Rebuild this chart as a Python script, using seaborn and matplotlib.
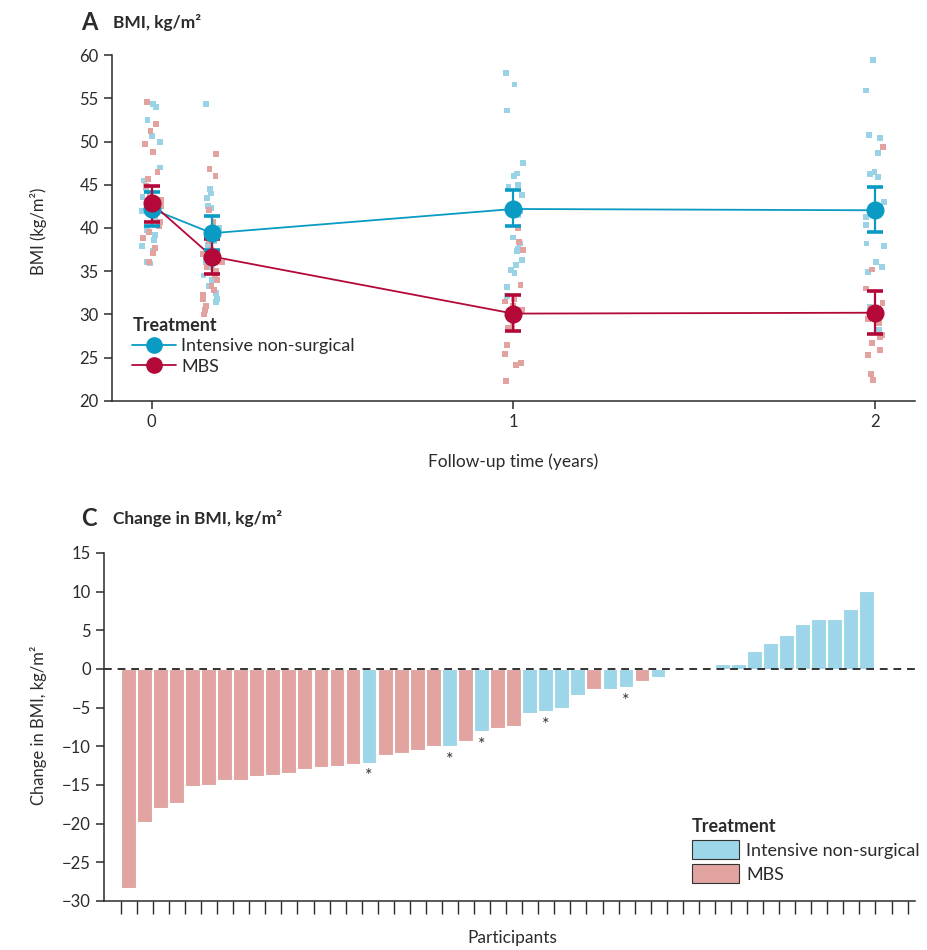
import numpy as np
import pandas as pd
import matplotlib
matplotlib.use("Agg")
import matplotlib.pyplot as plt
from matplotlib.lines import Line2D
from matplotlib.patches import Patch
import seaborn as sns

# ---------------- data: panel A ----------------
groups = ["Intensive non-surgical", "MBS"]
times = [0.0, 0.1667, 1.0, 2.0]

mean_ins = [42.2, 39.4, 42.2, 42.05]
lo_ins = [40.2, 37.4, 40.2, 39.5]
hi_ins = [44.2, 41.4, 44.4, 44.7]

mean_mbs = [42.85, 36.7, 30.1, 30.2]
lo_mbs = [40.7, 34.65, 28.1, 27.75]
hi_mbs = [44.85, 38.7, 32.2, 32.75]

ins_t0 = [54.3, 54.0, 52.5, 50.6, 49.9, 47.0, 45.5, 44.6, 43.6, 42.7, 42.0, 41.5,
          40.9, 39.8, 39.2, 38.6, 37.9, 37.3, 36.1, 35.9]
mbs_t0 = [54.6, 52.0, 51.2, 49.7, 48.8, 46.5, 45.7, 44.9, 44.0, 43.2, 42.5, 41.5,
          40.7, 40.2, 39.5, 38.8, 37.7, 37.1, 36.1]
ins_t1 = [54.3, 44.5, 44.0, 43.5, 42.5, 42.3, 40.0, 38.5, 38.0, 37.5, 37.0, 36.5,
          36.0, 35.5, 34.5, 34.0, 33.3, 32.5, 31.8, 31.4]
mbs_t1 = [48.6, 46.8, 46.0, 42.1, 40.7, 38.5, 37.5, 37.0, 36.5, 36.0, 35.5, 35.0,
          34.5, 34.0, 33.3, 32.8, 32.3, 31.8, 31.0, 30.5, 30.0]
ins_t2 = [57.9, 56.6, 53.6, 47.5, 46.3, 46.0, 45.0, 44.7, 43.8, 42.0, 41.5, 38.9,
          38.2, 37.6, 37.3, 36.3, 35.7, 35.1, 34.8, 33.2, 32.1]
mbs_t2 = [40.0, 38.4, 37.5, 33.4, 31.8, 31.5, 31.0, 30.5, 30.0, 29.4, 28.7, 28.4,
          26.5, 25.4, 24.4, 24.2, 22.3]
ins_t3 = [59.4, 55.9, 50.8, 50.4, 48.7, 46.5, 46.2, 45.9, 43.0, 42.5, 41.3, 40.3,
          38.2, 37.9, 36.1, 35.5, 34.9, 30.9, 28.2]
mbs_t3 = [49.4, 35.2, 33.0, 31.3, 30.8, 30.3, 29.5, 29.0, 27.6, 27.4, 26.7, 25.9,
          25.3, 23.1, 22.4]

# ---------------- data: panel C ----------------
change = [-28.3, -19.8, -18.0, -17.3, -15.1, -15.0, -14.4, -14.3, -13.9, -13.7,
          -13.4, -12.9, -12.65, -12.5, -12.3, -12.1, -11.1, -10.9, -10.5, -10.0,
          -10.0, -9.3, -8.0, -7.7, -7.4, -5.7, -5.4, -5.1, -3.4, -2.6,
          -2.6, -2.4, -1.5, -1.1, 0.7, 0.7, 2.3, 3.4, 4.4, 5.8,
          6.4, 6.5, 7.7, 10.1]
arm = ["M"] * 15 + ["I", "M", "M", "M", "M", "I", "M", "I", "M", "M", "I",
                    "I", "I", "I", "M", "I", "I", "M", "I"] + ["I"] * 10
slot = list(range(34)) + list(range(37, 47))
starred = [15, 20, 22, 26, 31]
n_slots = 50

# ---------------- style ----------------
sns.set_style("ticks")
plt.rcParams["font.family"] = ["Lato", "DejaVu Sans"]
dark = "#2b2b2b"
plt.rcParams.update({
    "axes.edgecolor": dark, "axes.linewidth": 1.1, "xtick.color": dark,
    "ytick.color": dark, "text.color": dark, "axes.labelcolor": dark,
})

c_ins, c_mbs = "#0a9bc4", "#b30838"
c_ins_l, c_mbs_l = "#9ad3e6", "#e2a29f"
bar_ins, bar_mbs = "#9dd6e8", "#e1a4a0"

fig = plt.figure(figsize=(9.27, 9.5), dpi=100)

# ---------------- panel A ----------------
axA = fig.add_axes([0.1208, 0.578, 0.866, 0.364])
pts = []
for t, a, b in [(times[0], ins_t0, mbs_t0), (times[1], ins_t1, mbs_t1),
                (times[2], ins_t2, mbs_t2), (times[3], ins_t3, mbs_t3)]:
    pts += [(t, v, groups[0]) for v in a]
    pts += [(t, v, groups[1]) for v in b]
dfp = pd.DataFrame(pts, columns=["time", "bmi", "grp"])
np.random.seed(3)
sns.stripplot(data=dfp, x="time", y="bmi", hue="grp", native_scale=True,
              jitter=0.17, dodge=False, marker="s", size=4.2, linewidth=0,
              palette={groups[0]: c_ins_l, groups[1]: c_mbs_l},
              legend=False, ax=axA, zorder=1)

dfm = pd.DataFrame({"time": times * 2, "bmi": mean_ins + mean_mbs,
                    "grp": [groups[0]] * 4 + [groups[1]] * 4})
sns.lineplot(data=dfm, x="time", y="bmi", hue="grp",
             palette={groups[0]: c_ins, groups[1]: c_mbs}, lw=1.3,
             legend=False, ax=axA, zorder=3)
for m, lo, hi, c in [(mean_ins, lo_ins, hi_ins, c_ins), (mean_mbs, lo_mbs, hi_mbs, c_mbs)]:
    m = np.array(m)
    axA.errorbar(times, m, yerr=[m - np.array(lo), np.array(hi) - m], fmt="o",
                 color=c, ms=12, elinewidth=1.6, capsize=6, capthick=2.6, zorder=4)

axA.set_xlim(-0.11, 2.11)
axA.set_ylim(20, 60)
axA.set_yticks(range(20, 61, 5))
axA.set_xticks([0, 1, 2])
axA.tick_params(labelsize=12, length=6, width=1.1)
axA.set_xlabel("")
axA.set_ylabel("")
sns.despine(ax=axA)

legA = axA.legend(
    handles=[Line2D([], [], color=c_ins, marker="o", ms=11, lw=1.3),
             Line2D([], [], color=c_mbs, marker="o", ms=11, lw=1.3)],
    labels=groups, title="Treatment", loc="upper left",
    bbox_to_anchor=(0.012, 0.275), frameon=False, fontsize=13,
    handlelength=2.4, handletextpad=0.3, labelspacing=0.25, borderaxespad=0.2)
legA.get_title().set_fontweight("bold")
legA.get_title().set_fontsize(13)
legA._legend_box.align = "left"

fig.text(0.087, 0.976, "A", fontsize=17, fontweight="bold", va="center")
fig.text(0.122, 0.976, "BMI, kg/m²", fontsize=12.5, fontweight="bold", va="center")
fig.text(0.041, 0.757, "BMI (kg/m²)", rotation=90, fontsize=12, ha="center", va="center")
fig.text(0.553, 0.514, "Follow-up time (years)", fontsize=12.5, ha="center", va="center")

# ---------------- panel C ----------------
axC = fig.add_axes([0.112, 0.0516, 0.875, 0.3664])
dfc = pd.DataFrame({"slot": slot, "change": change,
                    "grp": [groups[0] if a == "I" else groups[1] for a in arm]})
sns.barplot(data=dfc, x="slot", y="change", hue="grp", native_scale=True,
            dodge=False, width=0.92, edgecolor="white", linewidth=0.8,
            saturation=1,
            palette={groups[0]: bar_ins, groups[1]: bar_mbs},
            legend=False, ax=axC, zorder=2)
axC.axhline(0, color="#333333", lw=1.4, ls=(0, (4, 3)), zorder=3)
for s in starred:
    v = change[slot.index(s)]
    axC.text(s, v - 1.8, "*", ha="center", va="center", fontsize=13, color="#333333")

axC.set_xlim(-1.52, 49.0)
axC.set_ylim(-30, 15)
axC.set_yticks(range(-30, 16, 5))
axC.set_xticks([i - 0.46 for i in range(n_slots)])
axC.set_xticklabels([])
axC.tick_params(axis="y", labelsize=12, length=6, width=1.1)
axC.tick_params(axis="x", length=9, width=1.0)
axC.set_xlabel("")
axC.set_ylabel("")
sns.despine(ax=axC)

legC = axC.legend(
    handles=[Patch(facecolor=bar_ins, edgecolor="#333333", lw=0.8),
             Patch(facecolor=bar_mbs, edgecolor="#333333", lw=0.8)],
    labels=groups, title="Treatment", loc="upper left",
    bbox_to_anchor=(0.705, 0.285), frameon=False, fontsize=13,
    handlelength=2.6, handleheight=1.2, handletextpad=0.4, labelspacing=0.3)
legC.get_title().set_fontweight("bold")
legC.get_title().set_fontsize(13)
legC._legend_box.align = "left"

fig.text(0.087, 0.454, "C", fontsize=17, fontweight="bold", va="center")
fig.text(0.122, 0.454, "Change in BMI, kg/m²", fontsize=12.5, fontweight="bold", va="center")
fig.text(0.041, 0.237, "Change in BMI, kg/m²", rotation=90, fontsize=12, ha="center", va="center")
fig.text(0.553, 0.0126, "Participants", fontsize=12.5, ha="center", va="center")

fig.savefig("out.png", dpi=100)
